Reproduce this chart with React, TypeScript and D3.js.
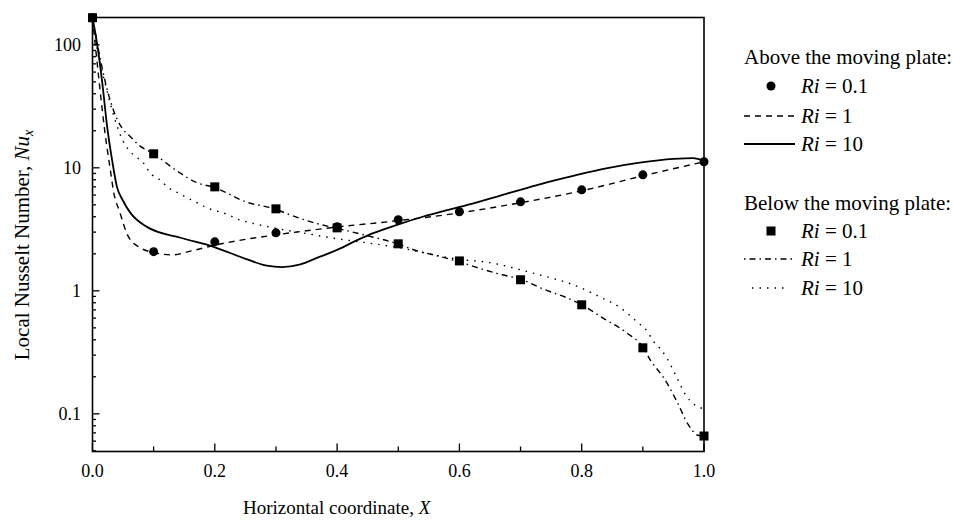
import React from "react";
import * as d3 from "d3";

// marker positions (X) shared by both Ri = 0.1 series
const markerX = [0, 0.1, 0.2, 0.3, 0.4, 0.5, 0.6, 0.7, 0.8, 0.9, 1.0];
const aboveRi01 = [166, 2.08, 2.5, 2.96, 3.31, 3.78, 4.39, 5.29, 6.62, 8.77, 11.2];
const belowRi01 = [166, 13.0, 7.0, 4.64, 3.25, 2.41, 1.75, 1.23, 0.77, 0.344, 0.066];

// above the moving plate, Ri = 1 (dashed)
const aboveRi1: [number, number][] = [
  [0, 166], [0.01, 55], [0.02, 20], [0.03, 9], [0.034, 6.6], [0.045, 4.3],
  [0.058, 2.8], [0.078, 2.24], [0.1, 2.05], [0.13, 1.96], [0.16, 2.1],
  [0.2, 2.35], [0.25, 2.62], [0.3, 2.85], [0.35, 3.08], [0.4, 3.3],
  [0.5, 3.72], [0.6, 4.3], [0.7, 5.2], [0.8, 6.5], [0.9, 8.6], [1.0, 11.2],
];

// above the moving plate, Ri = 10 (solid)
const aboveRi10: [number, number][] = [
  [0, 166], [0.009, 91], [0.016, 49], [0.024, 21.5], [0.032, 11.6],
  [0.04, 7.0], [0.049, 5.5], [0.062, 4.3], [0.089, 3.31], [0.144, 2.7],
  [0.198, 2.28], [0.253, 1.8], [0.285, 1.6], [0.31, 1.56], [0.34, 1.64],
  [0.367, 1.85], [0.4, 2.15], [0.433, 2.58], [0.459, 2.94], [0.498, 3.44],
  [0.54, 4.0], [0.585, 4.6], [0.62, 5.1], [0.667, 5.95], [0.71, 6.85],
  [0.74, 7.55], [0.79, 8.7], [0.84, 9.9], [0.895, 11.0], [0.95, 11.8],
  [0.982, 12.0], [1.0, 11.4],
];

// below the moving plate, Ri = 1 (dash-dot)
const belowRi1: [number, number][] = [
  [0, 166], [0.01, 90], [0.02, 52], [0.03, 34], [0.04, 25], [0.05, 20.5],
  [0.062, 17.9], [0.075, 15.4], [0.1, 13.0], [0.14, 9.3], [0.17, 7.6],
  [0.2, 6.9], [0.25, 5.3], [0.3, 4.6], [0.32, 4.2], [0.36, 3.6], [0.4, 3.22],
  [0.45, 2.8], [0.5, 2.4], [0.52, 2.2], [0.57, 1.89], [0.6, 1.72],
  [0.63, 1.54], [0.67, 1.35], [0.7, 1.24], [0.74, 1.02], [0.78, 0.86],
  [0.8, 0.77], [0.835, 0.6], [0.875, 0.45], [0.9, 0.35], [0.912, 0.275],
  [0.936, 0.19], [0.956, 0.125], [0.974, 0.082], [0.99, 0.067], [1.0, 0.066],
];

// below the moving plate, Ri = 10 (dotted)
const belowRi10: [number, number][] = [
  [0, 166], [0.01, 80], [0.02, 50], [0.03, 32], [0.04, 22], [0.05, 16.5],
  [0.067, 12.7], [0.083, 11], [0.094, 9.1], [0.11, 8.0], [0.124, 6.9],
  [0.14, 6.25], [0.155, 5.7], [0.171, 5.2], [0.184, 4.8], [0.222, 4.15],
  [0.236, 3.85], [0.266, 3.5], [0.296, 3.25], [0.35, 2.92], [0.4, 2.65],
  [0.45, 2.45], [0.5, 2.25], [0.55, 2.0], [0.6, 1.8], [0.64, 1.72],
  [0.667, 1.63], [0.7, 1.48], [0.743, 1.3], [0.773, 1.18], [0.8, 1.05],
  [0.83, 0.89], [0.863, 0.73], [0.892, 0.55], [0.907, 0.47], [0.917, 0.39],
  [0.928, 0.34], [0.939, 0.285], [0.955, 0.2], [0.971, 0.14], [0.983, 0.12],
  [1.0, 0.11],
];

const xTickLabels = [0, 0.2, 0.4, 0.6, 0.8, 1.0];
const xMinorTicks = [0.1, 0.3, 0.5, 0.7, 0.9];
const yTickLabels = [0.1, 1, 10, 100];

const W = 953;
const H = 520;
const FONT = "'Liberation Serif', 'Times New Roman', serif";

const App = () => {
  const left = 92.5;
  const right = 704;
  const top = 17.5;
  const bottom = 451.5;

  const x = d3.scaleLinear().domain([0, 1]).range([left, right]);
  const y = d3.scaleLog().domain([0.0494, 166.7]).range([bottom, top]);

  const line = d3
    .line<[number, number]>()
    .x((d) => x(d[0]))
    .y((d) => y(d[1]))
    .curve(d3.curveMonotoneX);

  const yTicks = y.ticks();
  const isMajor = (v: number) => Math.abs(Math.log10(v) - Math.round(Math.log10(v))) < 1e-6;

  const legendX = 744;
  const lineEnd = 795;
  const textX = 801;

  const riText = (yy: number, val: string) => (
    <text x={textX} y={yy} dy="0.35em" fontSize={21} fontFamily={FONT}>
      <tspan fontStyle="italic">Ri</tspan>
      {` = ${val}`}
    </text>
  );

  return (
    <svg
      width={W}
      height={H}
      style={{ position: "absolute", left: 0, top: 0, background: "#fff" }}
    >
      <rect width={W} height={H} fill="#fff" />

      {/* curves */}
      <g fill="none" stroke="#000">
        <path d={line(aboveRi1) || ""} strokeWidth={1.4} strokeDasharray="6,5" />
        <path d={line(aboveRi10) || ""} strokeWidth={1.8} />
        <path d={line(belowRi1) || ""} strokeWidth={1.4} strokeDasharray="6,4,1.5,4" />
        <path d={line(belowRi10) || ""} strokeWidth={1.4} strokeDasharray="1.5,6" />
      </g>

      {/* markers */}
      {markerX.map((xv, i) => (
        <circle key={`c${i}`} cx={x(xv)} cy={y(aboveRi01[i])} r={4.5} fill="#000" />
      ))}
      {markerX.map((xv, i) => (
        <rect
          key={`s${i}`}
          x={x(xv) - 4.5}
          y={y(belowRi01[i]) - 4.5}
          width={9}
          height={9}
          fill="#000"
        />
      ))}

      {/* frame */}
      <rect
        x={left}
        y={top}
        width={right - left}
        height={bottom - top}
        fill="none"
        stroke="#000"
        strokeWidth={1.6}
      />

      {/* y ticks */}
      {yTicks.map((t, i) => (
        <line
          key={`yt${i}`}
          x1={left}
          x2={left + (isMajor(t) ? 7 : 3.5)}
          y1={y(t)}
          y2={y(t)}
          stroke="#000"
          strokeWidth={1.3}
        />
      ))}
      {yTickLabels.map((t) => (
        <text
          key={`yl${t}`}
          x={81}
          y={y(t)}
          dy="0.35em"
          textAnchor="end"
          fontSize={18}
          fontFamily={FONT}
        >
          {String(t)}
        </text>
      ))}

      {/* x ticks */}
      {xTickLabels.map((t) => (
        <line key={`xt${t}`} x1={x(t)} x2={x(t)} y1={bottom} y2={bottom - 8} stroke="#000" strokeWidth={1.3} />
      ))}
      {xMinorTicks.map((t) => (
        <line key={`xm${t}`} x1={x(t)} x2={x(t)} y1={bottom} y2={bottom - 5} stroke="#000" strokeWidth={1.3} />
      ))}
      {xTickLabels.map((t) => (
        <text
          key={`xl${t}`}
          x={x(t)}
          y={477}
          textAnchor="middle"
          fontSize={18}
          fontFamily={FONT}
        >
          {t.toFixed(1)}
        </text>
      ))}

      {/* axis titles */}
      <text x={243} y={514} fontSize={19} fontFamily={FONT}>
        Horizontal coordinate, <tspan fontStyle="italic">X</tspan>
      </text>
      <text
        transform={`translate(29, 245) rotate(-90)`}
        textAnchor="middle"
        fontSize={21}
        fontFamily={FONT}
      >
        Local Nusselt Number, <tspan fontStyle="italic">Nu</tspan>
        <tspan fontStyle="italic" fontSize={14} dy="4">x</tspan>
      </text>

      {/* legend */}
      <text x={legendX} y={57} dy="0.35em" fontSize={21} fontFamily={FONT}>
        Above the moving plate:
      </text>
      <circle cx={771} cy={86} r={4.5} fill="#000" />
      {riText(86, "0.1")}
      <line x1={legendX} x2={lineEnd} y1={116} y2={116} stroke="#000" strokeWidth={1.4} strokeDasharray="6,5" />
      {riText(116, "1")}
      <line x1={legendX} x2={lineEnd} y1={144} y2={144} stroke="#000" strokeWidth={1.8} />
      {riText(144, "10")}

      <text x={legendX} y={203} dy="0.35em" fontSize={21} fontFamily={FONT}>
        Below the moving plate:
      </text>
      <rect x={766.5} y={226.5} width={9} height={9} fill="#000" />
      {riText(231, "0.1")}
      <line x1={legendX} x2={lineEnd} y1={259} y2={259} stroke="#000" strokeWidth={1.4} strokeDasharray="1.5,4,6,4" />
      {riText(259, "1")}
      <line x1={752} x2={786} y1={288} y2={288} stroke="#000" strokeWidth={1.4} strokeDasharray="1.5,6" />
      {riText(288, "10")}
    </svg>
  );
};

export default App;
